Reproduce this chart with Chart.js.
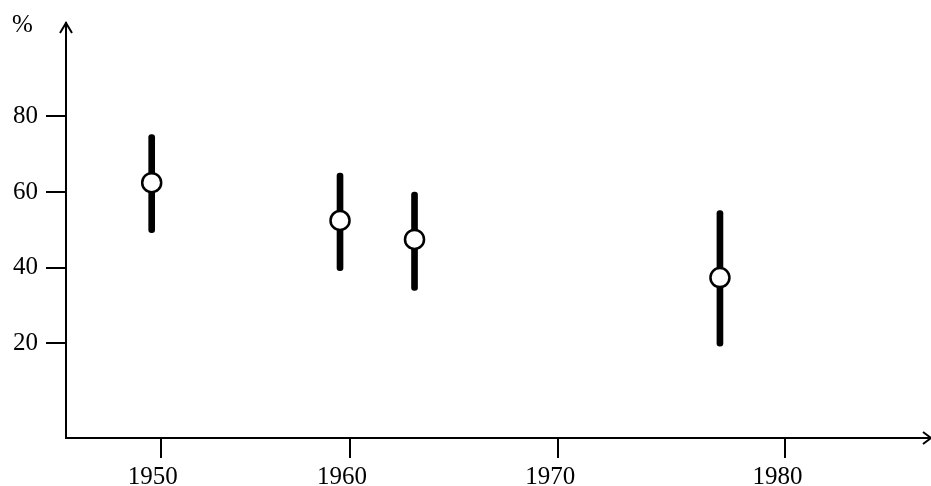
<!DOCTYPE html>
<html>
<head>
<meta charset="utf-8">
<script src="https://cdn.jsdelivr.net/npm/chart.js@4.4.1/dist/chart.umd.min.js"></script>
<style>
  html, body { margin: 0; padding: 0; background: #fff; }
</style>
</head>
<body>
<canvas id="chart" width="931" height="486"></canvas>
<script>
// Valeurs : annee, valeur centrale et intervalle (en %)
const years = [1949.5, 1959.5, 1963.2, 1977.2];
const centre = [62.5, 52.5, 47.5, 37.4];
const low = [49.3, 39.2, 34, 19.3];
const high = [75.2, 65, 60, 55.1];

const xTicks = [1950, 1960, 1970, 1980];
const yTicks = [20, 40, 60, 80];

// L'axe des annees de l'original s'etire vers la droite :
// chaque decennie est un peu plus large que la precedente.
const DECADE = 179.8, STRETCH = 9.5;
function warp(v) {
    const t = (v - 1950) / 10;
    return DECADE * t + STRETCH * t * t;
}
function unwarp(w) {
    return 1950 + 10 * (-DECADE + Math.sqrt(DECADE * DECADE + 4 * STRETCH * w)) / (2 * STRETCH);
}

class StretchedScale extends Chart.LinearScale {
    getPixelForValue(value) {
        if (value === null || value === undefined) return NaN;
        const a = warp(this.min), b = warp(this.max);
        return this.getPixelForDecimal((warp(value) - a) / (b - a));
    }
    getValueForPixel(pixel) {
        const a = warp(this.min), b = warp(this.max);
        return unwarp(a + this.getDecimalForPixel(pixel) * (b - a));
    }
}
StretchedScale.id = 'stretched';
StretchedScale.defaults = Chart.LinearScale.defaults;
Chart.register(StretchedScale);

// Fleches au bout des axes et le signe % en haut a gauche
const axisArrows = {
    id: 'axisArrows',
    afterDraw(chart) {
        const { ctx, chartArea: a } = chart;
        ctx.save();
        ctx.strokeStyle = '#000';
        ctx.lineWidth = 2;
        ctx.beginPath();
        ctx.moveTo(a.left - 6, a.top + 10);
        ctx.lineTo(a.left, a.top);
        ctx.lineTo(a.left + 6, a.top + 10);
        ctx.moveTo(a.right - 2, a.bottom);
        ctx.lineTo(a.right + 4, a.bottom);
        ctx.moveTo(a.right - 6, a.bottom - 6);
        ctx.lineTo(a.right + 2, a.bottom);
        ctx.lineTo(a.right - 6, a.bottom + 6);
        ctx.stroke();
        ctx.fillStyle = '#000';
        ctx.font = '25px "Liberation Serif"';
        ctx.textBaseline = 'alphabetic';
        ctx.fillText('%', 12, 32);
        ctx.restore();
    }
};

Chart.defaults.font.family = '"Liberation Serif", "Times New Roman", serif';
Chart.defaults.color = '#000';

const points = years.map((x, i) => ({ x: x, y: centre[i] }));
const ranges = years.map((x, i) => ({ x: x, y: [low[i], high[i]] }));

const axisGrid = {
    offset: false,
    drawOnChartArea: false,
    drawTicks: true,
    tickLength: 20,
    tickWidth: 2,
    tickColor: '#000',
    color: '#000',
    lineWidth: 2
};

const ctx = document.getElementById('chart').getContext('2d');
const chart = new Chart(ctx, {
    type: 'scatter',
    data: {
        datasets: [{
            type: 'scatter',
            data: points,
            order: 1,
            pointRadius: 9.5,
            pointBorderWidth: 2.5,
            pointBackgroundColor: '#fff',
            pointBorderColor: '#000'
        }, {
            type: 'bar',
            data: ranges,
            order: 2,
            backgroundColor: '#000',
            barThickness: 6,
            borderRadius: 3,
            borderSkipped: false
        }]
    },
    options: {
        responsive: false,
        animation: false,
        layout: { autoPadding: false, padding: { top: 22, right: 2, left: 0, bottom: 0 } },
        plugins: {
            legend: { display: false },
            tooltip: { enabled: false }
        },
        scales: {
            x: {
                type: 'stretched',
                min: 1944.58,
                max: 1985.92,
                offset: false,
                afterBuildTicks: s => { s.ticks = xTicks.map(v => ({ value: v })); },
                afterFit: s => {
                    s.height = 48;
                    s.paddingLeft = 0;
                    s.paddingRight = 0;
                },
                grid: axisGrid,
                border: { display: true, color: '#000', width: 2 },
                ticks: {
                    font: { size: 25 },
                    padding: 4,
                    labelOffset: -8,
                    maxRotation: 0,
                    autoSkip: false,
                    callback: v => String(v)
                }
            },
            y: {
                min: -5,
                max: 104.7,
                afterBuildTicks: s => { s.ticks = yTicks.map(v => ({ value: v })); },
                afterFit: s => { s.width = 66; },
                grid: axisGrid,
                border: { display: true, color: '#000', width: 2 },
                ticks: {
                    font: { size: 25 },
                    padding: 8,
                    callback: v => String(v)
                }
            }
        }
    },
    plugins: [axisArrows]
});
</script>
</body>
</html>
